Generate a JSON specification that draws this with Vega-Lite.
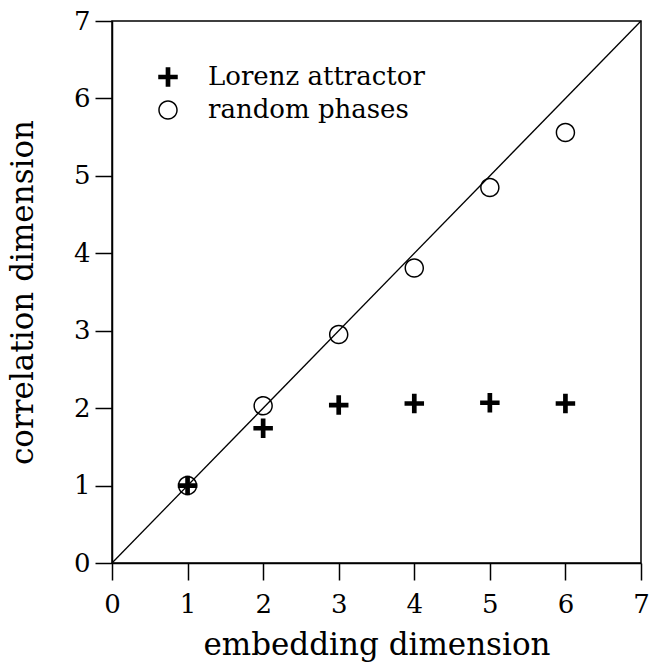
{
  "$schema": "https://vega.github.io/schema/vega-lite/v6.json",
  "width": 529,
  "height": 542,
  "autosize": "none",
  "padding": {"left": 112, "top": 21, "right": 8, "bottom": 103},
  "background": "white",
  "config": {
    "view": {"stroke": "black", "strokeWidth": 1.5},
    "font": "DejaVu Serif",
    "axis": {
      "domainColor": "black",
      "domainWidth": 1.5,
      "tickColor": "black",
      "tickWidth": 1.5,
      "tickSize": 17,
      "grid": false,
      "labelFlush": false,
      "labelFont": "DejaVu Serif",
      "labelFontSize": 26,
      "labelColor": "black",
      "titleFont": "DejaVu Serif",
      "titleFontSize": 31,
      "titleFontWeight": "normal",
      "titleColor": "black"
    }
  },
  "datasets": {
    "points": [
      {"embedding": 1, "correlation": 1.0, "series": "Lorenz attractor"},
      {"embedding": 2, "correlation": 1.74, "series": "Lorenz attractor"},
      {"embedding": 3, "correlation": 2.04, "series": "Lorenz attractor"},
      {"embedding": 4, "correlation": 2.06, "series": "Lorenz attractor"},
      {"embedding": 5, "correlation": 2.07, "series": "Lorenz attractor"},
      {"embedding": 6, "correlation": 2.06, "series": "Lorenz attractor"},
      {"embedding": 1, "correlation": 1.0, "series": "random phases"},
      {"embedding": 2, "correlation": 2.03, "series": "random phases"},
      {"embedding": 3, "correlation": 2.95, "series": "random phases"},
      {"embedding": 4, "correlation": 3.81, "series": "random phases"},
      {"embedding": 5, "correlation": 4.85, "series": "random phases"},
      {"embedding": 6, "correlation": 5.56, "series": "random phases"}
    ],
    "diagonal": [
      {"embedding": 0, "correlation": 0},
      {"embedding": 7, "correlation": 7}
    ]
  },
  "layer": [
    {
      "data": {"name": "diagonal"},
      "mark": {"type": "line", "color": "black", "strokeWidth": 1.3},
      "encoding": {
        "x": {"field": "embedding", "type": "quantitative"},
        "y": {"field": "correlation", "type": "quantitative"}
      }
    },
    {
      "data": {"name": "points"},
      "mark": {"type": "point", "filled": true, "fill": "black", "strokeWidth": 0, "size": 380, "opacity": 1},
      "encoding": {
        "x": {
          "field": "embedding", "type": "quantitative",
          "scale": {"domain": [0, 7], "nice": false, "zero": false},
          "axis": {"values": [0, 1, 2, 3, 4, 5, 6, 7], "format": "d", "title": "embedding dimension", "labelPadding": 11, "titlePadding": 13}
        },
        "y": {
          "field": "correlation", "type": "quantitative",
          "scale": {"domain": [0, 7], "nice": false, "zero": false},
          "axis": {"values": [0, 1, 2, 3, 4, 5, 6, 7], "format": "d", "title": "correlation dimension", "labelPadding": 5, "titlePadding": 34}
        },
        "shape": {
          "field": "series", "type": "nominal",
          "scale": {"domain": ["Lorenz attractor", "random phases"], "range": [
            "M-1,-0.24H1V0.24H-1Z M-0.24,-1H0.24V1H-0.24Z",
            "M-1,0A1,1 0 1,0 1,0A1,1 0 1,0 -1,0Z M-0.85,0A0.85,0.85 0 1,1 0.85,0A0.85,0.85 0 1,1 -0.85,0Z"
          ]},
          "legend": {
            "title": null,
            "orient": "none",
            "legendX": 43,
            "legendY": 43,
            "padding": 0,
            "labelFont": "DejaVu Serif",
            "labelFontSize": 26,
            "labelColor": "black",
            "labelLimit": 400,
            "labelOffset": 27,
            "rowPadding": 7,
            "symbolSize": 380,
            "symbolFillColor": "black",
            "symbolStrokeWidth": 0,
            "symbolOpacity": 1
          }
        }
      }
    }
  ]
}
